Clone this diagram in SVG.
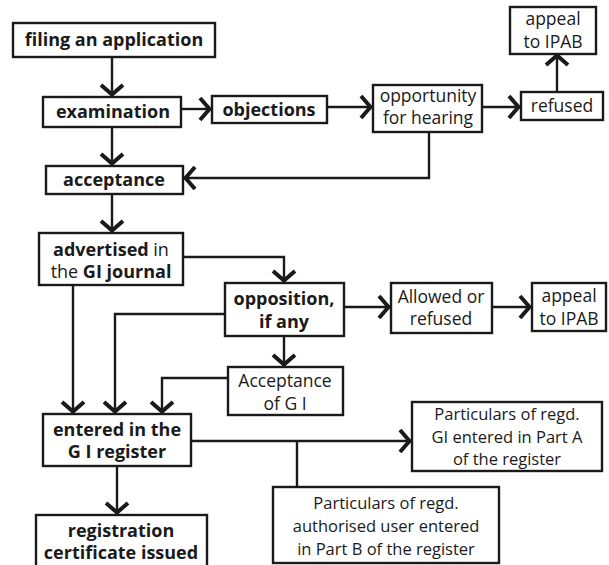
<svg xmlns="http://www.w3.org/2000/svg" width="609" height="565" viewBox="0 0 609 565">
<style>
.box{fill:#fff;stroke:#1a1a1a;stroke-width:2.4}
.t{font-family:"Open Sans","Liberation Sans",sans-serif;font-size:17.5px;fill:#1a1a1a;text-anchor:middle}
.p{font-size:16.5px}
.b{font-weight:bold;font-size:18px}
.n{font-weight:normal}
.c{fill:none;stroke:#1a1a1a;stroke-width:2.4}
.a{marker-end:url(#ah)}
</style>
<defs>
<marker id="ah" markerWidth="30" markerHeight="30" viewBox="-16 -15 18 30" refX="0" refY="0" orient="auto" markerUnits="userSpaceOnUse">
<path d="M-11,-11 L-1.5,0 L-11,11" fill="none" stroke="#1a1a1a" stroke-width="4"/>
</marker>
</defs>
<rect width="609" height="565" fill="#fff"/>
<g id="connectors">
<path class="c a" d="M112,57 V96"/>
<path class="c a" d="M181,109 H211"/>
<path class="c a" d="M112,127 V165"/>
<path class="c a" d="M327,107 H372"/>
<path class="c a" d="M482,107 H520"/>
<path class="c a" d="M557,92 V54"/>
<path class="c a" d="M429,132 V178 H184"/>
<path class="c a" d="M112,194 V232"/>
<path class="c a" d="M183,257 H284 V282"/>
<path class="c a" d="M73,285 V413"/>
<path class="c a" d="M225,314 H115 V413"/>
<path class="c a" d="M284,336 V366"/>
<path class="c a" d="M228,378 H162 V413"/>
<path class="c a" d="M344,307 H390"/>
<path class="c a" d="M492,307 H531"/>
<path class="c a" d="M117,466 V514"/>
<path class="c a" d="M191,441 H411"/>
<path class="c" d="M297,441 V487"/>
</g>
<g id="filing"><rect class="box" x="13" y="23" width="202" height="34"/><text class="t b" x="114" y="46">filing an application</text></g>
<g id="examination"><rect class="box" x="43" y="97" width="138" height="30"/><text class="t b" x="113" y="118">examination</text></g>
<g id="objections"><rect class="box" x="212" y="96" width="115" height="27"/><text class="t b" x="269" y="116">objections</text></g>
<g id="opportunity"><rect class="box" x="373" y="85" width="109" height="47"/><text class="t" x="428" y="102">opportunity</text><text class="t" x="428" y="124">for hearing</text></g>
<g id="refused1"><rect class="box" x="521" y="92" width="82" height="28"/><text class="t" x="562" y="112">refused</text></g>
<g id="appeal1"><rect class="box" x="510" y="7" width="86" height="47"/><text class="t" x="553" y="25">appeal</text><text class="t" x="553" y="48">to IPAB</text></g>
<g id="acceptance"><rect class="box" x="46" y="166" width="137" height="28"/><text class="t b" x="114" y="186">acceptance</text></g>
<g id="advertised"><rect class="box" x="39" y="233" width="144" height="52"/><text class="t b" x="111" y="256">advertised <tspan class="n">in</tspan></text><text class="t b" x="111" y="278"><tspan class="n">the</tspan> GI  journal</text></g>
<g id="opposition"><rect class="box" x="225" y="283" width="119" height="53"/><text class="t b" x="284" y="305">opposition,</text><text class="t b" x="284" y="328">if any</text></g>
<g id="allowed"><rect class="box" x="391" y="283" width="101" height="50"/><text class="t" x="441" y="303">Allowed or</text><text class="t" x="441" y="325">refused</text></g>
<g id="appeal2"><rect class="box" x="532" y="283" width="74" height="48"/><text class="t" x="569" y="302">appeal</text><text class="t" x="569" y="325">to IPAB</text></g>
<g id="acceptanceGI"><rect class="box" x="228" y="367" width="115" height="48"/><text class="t" x="285" y="387">Acceptance</text><text class="t" x="285" y="410">of G I</text></g>
<g id="entered"><rect class="box" x="43" y="414" width="148" height="52"/><text class="t b" x="117" y="436">entered in the</text><text class="t b" x="117" y="458">G I register</text></g>
<g id="registration"><rect class="box" x="36" y="515" width="171" height="56"/><text class="t b" x="121" y="537">registration</text><text class="t b" x="121" y="559">certificate issued</text></g>
<g id="partA"><rect class="box" x="412" y="402" width="190" height="69"/><text class="t p" x="507" y="420">Particulars of regd.</text><text class="t p" x="507" y="443">GI entered in Part A</text><text class="t p" x="507" y="465">of the register</text></g>
<g id="partB"><rect class="box" x="273" y="487" width="226" height="76"/><text class="t p" x="386" y="509">Particulars of regd.</text><text class="t p" x="386" y="532">authorised user entered</text><text class="t p" x="386" y="555">in Part B of the register</text></g>
</svg>
